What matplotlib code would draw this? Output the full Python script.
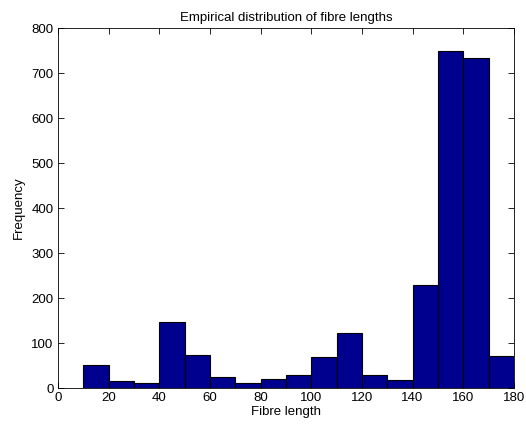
import numpy as np
from matplotlib import pyplot as plt

# histogram bins (left edges, width 10) and counts
bin_left = [10, 20, 30, 40, 50, 60, 70, 80, 90, 100, 110, 120, 130, 140, 150, 160, 170]
counts = [52, 15, 12, 147, 73, 24, 12, 20, 29, 69, 122, 29, 18, 229, 750, 733, 72]
bin_width = 10

plt.rcParams['font.family'] = ['Liberation Sans', 'DejaVu Sans']
plt.rcParams['font.size'] = 9.5

fig = plt.figure(figsize=(5.26, 4.26), dpi=100)
ax = fig.add_axes([0.110, 0.089, 0.867, 0.845])

ax.bar(bin_left, counts, width=bin_width, align='edge',
       color='#00008F', edgecolor='black', linewidth=0.8)

ax.set_xlim([0, 180])
ax.set_ylim([0, 800])
ax.set_xticks(np.arange(0, 181, 20))
ax.set_yticks(np.arange(0, 801, 100))
ax.tick_params(direction='in', top=True, right=True, length=4, width=0.6, labelsize=9.5, pad=3)
for s in ax.spines.values():
    s.set_linewidth(0.6)

ax.set_title('Empirical distribution of fibre lengths', fontsize=9.5, pad=5)
ax.set_xlabel('Fibre length', fontsize=9.5, labelpad=1)
ax.set_ylabel('Frequency', fontsize=9.5, labelpad=5)

fig.savefig('out.png', facecolor='white')
plt.close(fig)
